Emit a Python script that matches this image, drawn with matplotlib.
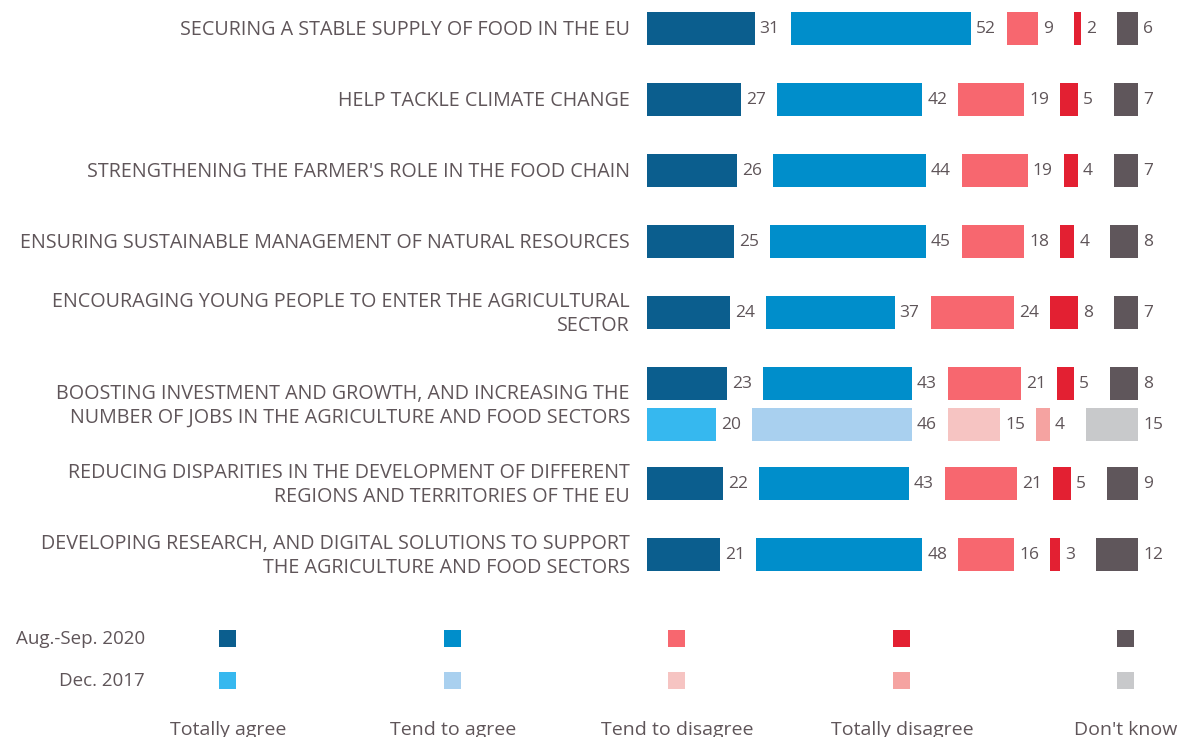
# 共通農業政策の目標に関する意見（2020年と2017年の比較）

import matplotlib.pyplot as plt

plt.rcParams['font.family'] = ['Open Sans', 'DejaVu Sans']

# 項目名
items = [
    "SECURING A STABLE SUPPLY OF FOOD IN THE EU",
    "HELP TACKLE CLIMATE CHANGE",
    "STRENGTHENING THE FARMER'S ROLE IN THE FOOD CHAIN",
    "ENSURING SUSTAINABLE MANAGEMENT OF NATURAL RESOURCES",
    "ENCOURAGING YOUNG PEOPLE TO ENTER THE AGRICULTURAL\nSECTOR",
    "BOOSTING INVESTMENT AND GROWTH, AND INCREASING THE\nNUMBER OF JOBS IN THE AGRICULTURE AND FOOD SECTORS",
    "REDUCING DISPARITIES IN THE DEVELOPMENT OF DIFFERENT\nREGIONS AND TERRITORIES OF THE EU",
    "DEVELOPING RESEARCH, AND DIGITAL SOLUTIONS TO SUPPORT\nTHE AGRICULTURE AND FOOD SECTORS",
]

answers = ["Totally agree", "Tend to agree", "Tend to disagree",
           "Totally disagree", "Don't know"]
waves = ["Aug.-Sep. 2020", "Dec. 2017"]

# 2020年の値（項目ごと）
totally_agree = [31, 27, 26, 25, 24, 23, 22, 21]
tend_agree = [52, 42, 44, 45, 37, 43, 43, 48]
tend_disagree = [9, 19, 19, 18, 24, 21, 21, 16]
totally_disagree = [2, 5, 4, 4, 8, 5, 5, 3]
dont_know = [6, 7, 7, 8, 7, 8, 9, 12]

# 2017年の値（6番目の項目のみ）
item_2017 = 5
values_2017 = [20, 46, 15, 4, 15]

colors_2020 = ['#0b5e8e', '#008ecb', '#f7676f', '#e32032', '#5f565b']
colors_2017 = ['#36b8ef', '#a9d0ef', '#f6c4c2', '#f5a3a1', '#c8c9cb']
text_color = '#5f5559'

# 配置（ピクセル換算）
W, H = 1191, 737
x0 = 647.0        # 棒の開始位置
ppu = 3.47        # 1単位あたりのピクセル
gap = 36 / ppu    # 棒の間隔（数値ラベル分）
bar_h = 33


def px(x):
    return (x - x0) / ppu


fig = plt.figure(figsize=(W / 100, H / 100), dpi=100)
ax = fig.add_axes([0, 0, 1, 1])
ax.set_xlim(px(0), px(W))
ax.set_ylim(H, 0)
ax.axis('off')

# 行の縦位置
row_y = []
y = 28
for i in range(len(items)):
    row_y.append(y)
    y += 71
    if i == item_2017:
        y += 29


def draw_row(yc, vals, cols):
    left = 0
    for v, c in zip(vals, cols):
        ax.barh(yc, v, left=left, height=bar_h, color=c)
        ax.text(left + v + 5 / ppu, yc + 1, str(v), va='center', ha='left',
                fontsize=12.5, color=text_color)
        left += v + gap


all_2020 = list(zip(totally_agree, tend_agree, tend_disagree,
                    totally_disagree, dont_know))
for i, name in enumerate(items):
    yc = row_y[i]
    draw_row(yc, all_2020[i], colors_2020)
    label_y = yc
    if i == item_2017:
        draw_row(yc + 41, values_2017, colors_2017)
        label_y = yc + 21
    ax.text(px(630), label_y + 2, name, ha='right', va='center', fontsize=14.2,
            color=text_color, linespacing=1.24)

# 凡例
leg_x = [228, 453, 677, 902, 1126]
leg_y = [638, 680]
for j, wave in enumerate(waves):
    ax.text(px(145), leg_y[j] + 1, wave, ha='right', va='center',
            fontsize=13.5, color=text_color)
    cols = colors_2020 if j == 0 else colors_2017
    for k in range(len(answers)):
        ax.barh(leg_y[j], 17 / ppu, left=px(leg_x[k] - 8.5), height=17,
                color=cols[k])
for k, a in enumerate(answers):
    ax.text(px(leg_x[k]), 730, a, ha='center', va='center', fontsize=14,
            color=text_color)

fig.savefig('out.png', dpi=100)
